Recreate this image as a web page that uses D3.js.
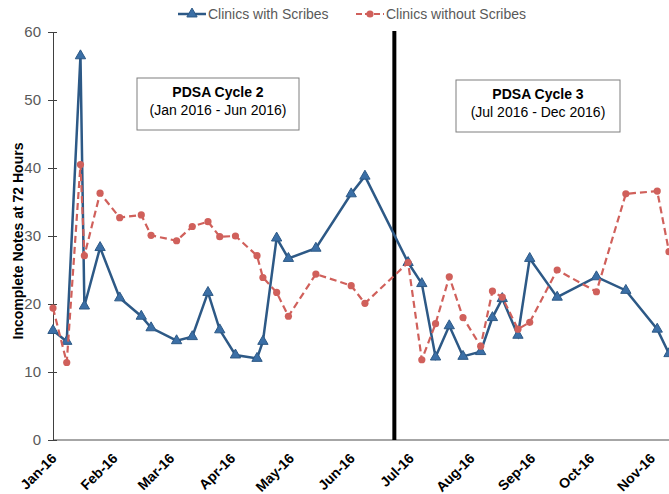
<!DOCTYPE html>
<html>
<head>
<meta charset="utf-8">
<script src="https://cdn.jsdelivr.net/npm/d3@7"></script>
<style>
  body { margin: 0; background: #fff; }
  svg { font-family: "Liberation Sans", Arial, sans-serif; display: block; }
</style>
</head>
<body>
<svg id="chart"></svg>
<script>
// sample dates (2016), shared by both series
var dates = ["2016-01-01","2016-01-08","2016-01-15","2016-01-17","2016-01-25",
             "2016-02-04","2016-02-15","2016-02-20","2016-03-04","2016-03-12",
             "2016-03-20","2016-03-26","2016-04-03","2016-04-14","2016-04-17",
             "2016-04-24","2016-04-30","2016-05-14","2016-06-01","2016-06-08",
             "2016-06-30","2016-07-07","2016-07-14","2016-07-21","2016-07-28",
             "2016-08-06","2016-08-12","2016-08-17","2016-08-25","2016-08-31",
             "2016-09-14","2016-10-04","2016-10-19","2016-11-04","2016-11-10"]

var withScribes = [16.1, 14.5, 56.5, 19.7, 28.3, 20.9, 18.2, 16.5, 14.6, 15.2,
                   21.7, 16.2, 12.5, 12.0, 14.5, 29.7, 26.7, 28.2, 36.2, 38.8,
                   26.1, 23.0, 12.2, 16.8, 12.3, 13.0, 18.0, 20.8, 15.4, 26.7,
                   21.0, 24.0, 22.0, 16.3, 12.7]

var withoutScribes = [19.4, 11.4, 40.5, 27.1, 36.3, 32.7, 33.1, 30.1, 29.3, 31.4,
                      32.1, 29.9, 30.0, 27.1, 23.9, 21.7, 18.2, 24.4, 22.7, 20.1,
                      26.1, 11.8, 17.1, 24.0, 18.0, 13.8, 21.9, 21.0, 16.3, 17.3,
                      25.0, 21.8, 36.2, 36.6, 27.7]

var seriesNames = ["Clinics with Scribes", "Clinics without Scribes"]
var yTicks = [0, 10, 20, 30, 40, 50, 60]
var xDomain = ["2016-01-01", "2016-11-10"]
var cycleSplit = "2016-06-23"
var cycleTitles = ["PDSA Cycle 2", "PDSA Cycle 3"]
var cycleRanges = ["(Jan 2016 - Jun 2016)", "(Jul 2016 - Dec 2016)"]

var screen = {width: 669, height: 494}
var plot = {left: 53, right: 669, top: 32, bottom: 440}
var blue = "#2d5986", blueFill = "#3b6fa6", red = "#d0605b"

var parse = d3.timeParse("%Y-%m-%d")

var svg = d3.select("#chart")
    .attr("width", screen.width)
    .attr("height", screen.height)

var xScale = d3.scaleTime()
    .domain(xDomain.map(parse))
    .range([plot.left, plot.right])

var yScale = d3.scaleLinear()
    .domain([0, 60])
    .range([plot.bottom, plot.top])

// x axis: grey baseline + bold rotated month labels
var xAxis = d3.axisBottom(xScale)
    .ticks(d3.timeMonth.every(1))
    .tickFormat(d3.timeFormat("%b-%y"))
    .tickSize(0)

var gx = svg.append("g")
    .attr("transform", "translate(0," + plot.bottom + ")")
    .call(xAxis)
gx.select(".domain").remove()
gx.selectAll("text")
    .attr("font-size", 14)
    .attr("font-weight", "bold")
    .attr("fill", "#000")
    .attr("text-anchor", "end")
    .attr("dy", null)
    .attr("transform", "translate(2,17) rotate(-45)")

svg.append("line")
    .attr("x1", plot.left).attr("x2", screen.width)
    .attr("y1", plot.bottom).attr("y2", plot.bottom)
    .attr("stroke", "#a6a6a6").attr("stroke-width", 2)

// y axis with crossing ticks
var yAxis = d3.axisLeft(yScale)
    .tickValues(yTicks)
    .tickSizeInner(5)
    .tickSizeOuter(0)
    .tickPadding(7)

var gy = svg.append("g")
    .attr("transform", "translate(" + plot.left + ",0)")
    .call(yAxis)
gy.select(".domain").attr("stroke", "#404040")
gy.selectAll(".tick line").attr("x2", 4).attr("x1", -5).attr("stroke", "#404040")
gy.selectAll("text")
    .attr("font-size", 15)
    .attr("fill", "#595959")

svg.append("text")
    .attr("transform", "translate(23," + ((plot.top + plot.bottom) / 2 + 5) + ") rotate(-90)")
    .attr("text-anchor", "middle")
    .attr("font-size", 14)
    .attr("font-weight", "bold")
    .attr("fill", "#000")
    .text("Incomplete Notes at 72 Hours")

// cycle boxes
var boxes = [
  {x: 137, y: 78, w: 162, h: 52},
  {x: 456, y: 80, w: 164, h: 52}
]
boxes.forEach(function(b, i) {
  var g = svg.append("g")
  g.append("rect")
    .attr("x", b.x).attr("y", b.y)
    .attr("width", b.w).attr("height", b.h)
    .attr("fill", "#fff").attr("stroke", "#7f7f7f").attr("stroke-width", 1)
  g.append("text")
    .attr("x", b.x + b.w / 2).attr("y", b.y + 19)
    .attr("text-anchor", "middle")
    .attr("font-size", 14).attr("font-weight", "bold")
    .text(cycleTitles[i])
  g.append("text")
    .attr("x", b.x + b.w / 2).attr("y", b.y + 37)
    .attr("text-anchor", "middle")
    .attr("font-size", 14)
    .text(cycleRanges[i])
})

// split line between cycles
svg.append("line")
    .attr("x1", xScale(parse(cycleSplit))).attr("x2", xScale(parse(cycleSplit)))
    .attr("y1", plot.top - 1).attr("y2", plot.bottom)
    .attr("stroke", "#000").attr("stroke-width", 4)

// series
var dataWith = dates.map(function(d, i) { return {date: parse(d), v: withScribes[i]} })
var dataWithout = dates.map(function(d, i) { return {date: parse(d), v: withoutScribes[i]} })

var lineGenerator = d3.line()
    .x(function(d) { return xScale(d.date) })
    .y(function(d) { return yScale(d.v) })

var tri = d3.symbol().type(d3.symbolTriangle).size(46)

svg.append("path")
    .datum(dataWith)
    .attr("d", lineGenerator)
    .attr("fill", "none")
    .attr("stroke", blue)
    .attr("stroke-width", 2.5)
svg.append("g").selectAll("path")
    .data(dataWith).enter()
    .append("path")
    .attr("d", tri)
    .attr("transform", function(d) { return "translate(" + xScale(d.date) + "," + yScale(d.v) + ")" })
    .attr("fill", blueFill)
    .attr("stroke", blue)
    .attr("stroke-width", 1)

svg.append("path")
    .datum(dataWithout)
    .attr("d", lineGenerator)
    .attr("fill", "none")
    .attr("stroke", red)
    .attr("stroke-width", 2.2)
    .attr("stroke-dasharray", "7,4")
svg.append("g").selectAll("circle")
    .data(dataWithout).enter()
    .append("circle")
    .attr("cx", function(d) { return xScale(d.date) })
    .attr("cy", function(d) { return yScale(d.v) })
    .attr("r", 3.6)
    .attr("fill", red)

// legend
var legend = svg.append("g")
var lg1 = legend.append("g").attr("transform", "translate(178,14)")
lg1.append("line").attr("x1", 0).attr("x2", 28).attr("stroke", blue).attr("stroke-width", 2.5)
lg1.append("path").attr("d", tri).attr("transform", "translate(14,0)")
    .attr("fill", blueFill).attr("stroke", blue)
lg1.append("text").attr("x", 30).attr("y", 5)
    .attr("font-size", 14).attr("fill", "#595959").text(seriesNames[0])

var lg2 = legend.append("g").attr("transform", "translate(356,14)")
lg2.append("line").attr("x1", 0).attr("x2", 28).attr("stroke", red)
    .attr("stroke-width", 2.2).attr("stroke-dasharray", "6,3")
lg2.append("circle").attr("cx", 14).attr("r", 3.6).attr("fill", red)
lg2.append("text").attr("x", 30).attr("y", 5)
    .attr("font-size", 14).attr("fill", "#595959").text(seriesNames[1])
</script>
</body>
</html>
